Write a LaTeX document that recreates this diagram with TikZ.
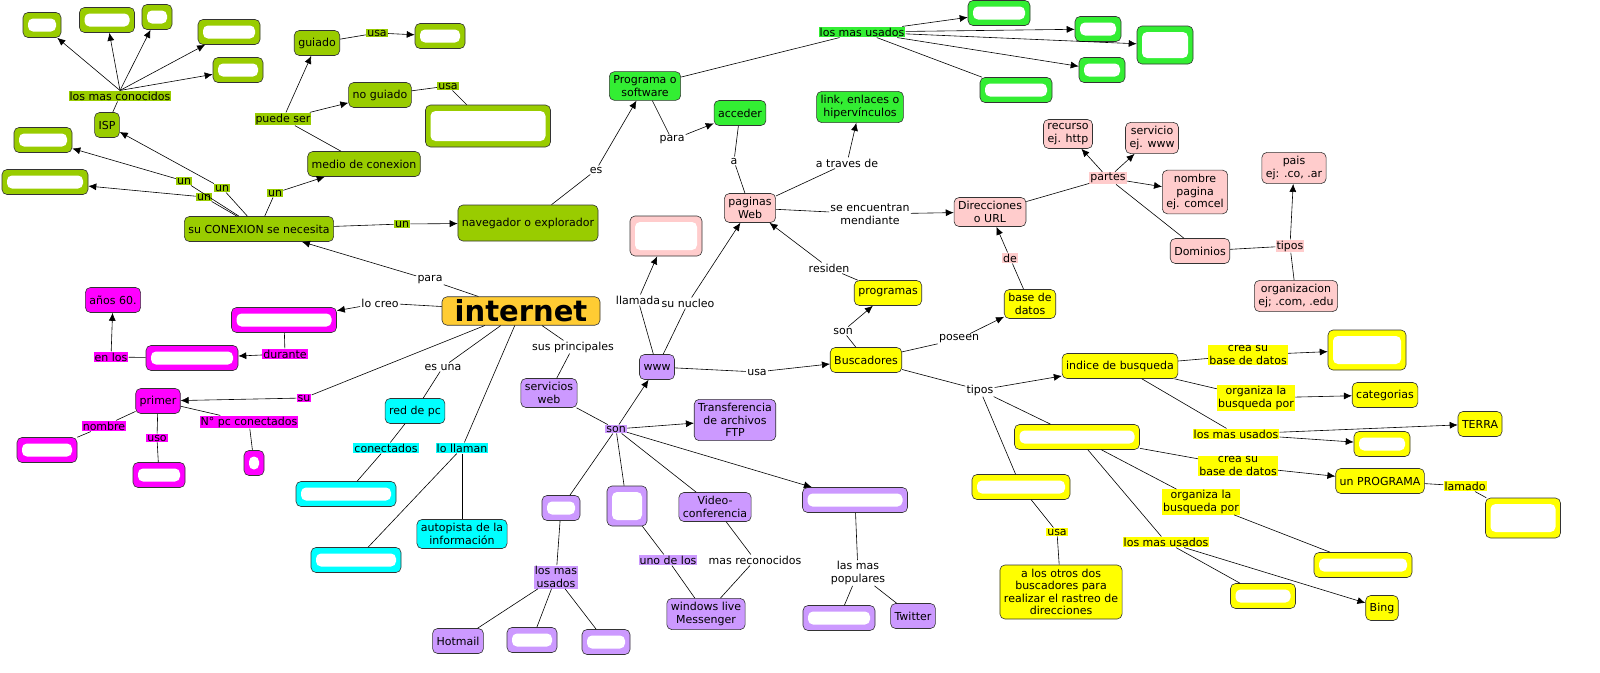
\documentclass[tikz,border=0pt]{standalone}
\usepackage{fontspec}
\setmainfont{DejaVu Sans}
\usetikzlibrary{positioning,arrows.meta}

\definecolor{olive}{HTML}{99CC00}
\definecolor{lime}{HTML}{33EE33}
\definecolor{rosa}{HTML}{FFCCCC}
\definecolor{mag}{HTML}{FF00FF}
\definecolor{cian}{HTML}{00FFFF}
\definecolor{lila}{HTML}{CC99FF}
\definecolor{amar}{HTML}{FFFF00}
\definecolor{naranja}{HTML}{FFCC33}

\tikzset{
  cn/.style={draw=black!80, rounded corners=5pt, align=center, inner sep=4pt, minimum height=25},
  hid/.style={path picture={\fill[white] ([shift={(5pt,-6pt)}]path picture bounding box.north west) rectangle ([shift={(-5pt,6pt)}]path picture bounding box.south east);}},
  lk/.style={fill=white, inner sep=1pt, align=center},
}

\begin{document}
\begin{tikzpicture}[x=1pt,y=-1pt,>={Latex[length=8pt,width=7pt]},font=\fontsize{11}{12.5}\selectfont,line width=0.6pt]
\useasboundingbox (0,0) rectangle (1600,672);

% verde olivo
\node[cn,fill=olive,hid,minimum width=38] (g1) at (42,25) {};
\node[cn,fill=olive,hid,minimum width=55] (g2) at (107,20) {};
\node[cn,fill=olive,hid,minimum width=30] (g3) at (157,17) {};
\node[cn,fill=olive,hid,minimum width=62] (g4) at (229,32) {};
\node[cn,fill=olive,hid,minimum width=50] (g5) at (238,70) {};
\node[cn,fill=olive] (guiado) at (317,43) {guiado};
\node[cn,fill=olive,hid,minimum width=50] (g6) at (440,36) {};
\node[cn,fill=olive] (noguiado) at (380,95) {no guiado};
\node[cn,fill=olive,hid,minimum width=125,minimum height=42] (g7) at (488,126) {};
\node[cn,fill=olive] (isp) at (107,125) {ISP};
\node[cn,fill=olive,hid,minimum width=58] (g8) at (43,140) {};
\node[cn,fill=olive,hid,minimum width=86] (g9) at (45,182) {};
\node[cn,fill=olive] (medio) at (364,164) {medio de conexion};
\node[cn,fill=olive] (conex) at (259,229) {su CONEXION se necesita};
\node[cn,fill=olive,minimum height=36] (nav) at (528,223) {navegador o explorador};

\node[lk,fill=olive] (lmc) at (120,96) {los mas conocidos};
\node[lk,fill=olive] (usa1) at (377,33) {usa};
\node[lk,fill=olive] (usa2) at (448,86) {usa};
\node[lk,fill=olive] (puede) at (283,119) {puede ser};
\node[lk,fill=olive] (un1) at (184,181) {un};
\node[lk,fill=olive] (un2) at (222,188) {un};
\node[lk,fill=olive] (un3) at (204,197) {un};
\node[lk,fill=olive] (un4) at (275,193) {un};
\node[lk,fill=olive] (un5) at (402,224) {un};
\node[lk] (es) at (596,170) {es};
\node[lk] (para1) at (430,280) {para};

% verde claro
\node[cn,fill=lime] (prog) at (645,86) {Programa o\\software};
\node[cn,fill=lime] (acceder) at (740,113) {acceder};
\node[cn,fill=lime] (link) at (860,107) {link, enlaces o\\hipervínculos};
\node[cn,fill=lime,hid,minimum width=62] (b1) at (999,13) {};
\node[cn,fill=lime,hid,minimum width=46] (b2) at (1098,29) {};
\node[cn,fill=lime,hid,minimum width=56,minimum height=38] (b3) at (1165,45) {};
\node[cn,fill=lime,hid,minimum width=46] (b4) at (1102,70) {};
\node[cn,fill=lime,hid,minimum width=72] (b5) at (1016,90) {};
\node[lk,fill=lime] (lmu1) at (862,32) {los mas usados};
\node[lk] (para2) at (672,140) {para};
\node[lk] (a) at (734,161) {a};
\node[lk] (atraves) at (847,163) {a traves de};

% rosa
\node[cn,fill=rosa] (pag) at (750,208) {paginas\\Web};
\node[cn,fill=rosa,hid,minimum width=72,minimum height=40] (p1) at (666,236) {};
\node[cn,fill=rosa] (dir) at (990,212) {Direcciones\\o URL};
\node[cn,fill=rosa] (recurso) at (1068,134) {recurso\\ej. http};
\node[cn,fill=rosa] (servicio) at (1152,138) {servicio\\ej. www};
\node[cn,fill=rosa] (nombre) at (1195,192) {nombre\\pagina\\ej. comcel};
\node[cn,fill=rosa] (pais) at (1294,168) {pais\\ej: .co, .ar};
\node[cn,fill=rosa] (dom) at (1200,251) {Dominios};
\node[cn,fill=rosa] (org) at (1296,296) {organizacion\\ej; .com, .edu};
\node[lk] (sem) at (870,214) {se encuentran\\mendiante};
\node[lk,fill=rosa] (partes) at (1108,178) {partes};
\node[lk,fill=rosa] (tipos1) at (1290,246) {tipos};
\node[lk,fill=rosa] (de) at (1010,258) {de};
\node[lk] (residen) at (829,268) {residen};

% internet
\node[cn,fill=naranja,font=\fontsize{29}{31}\bfseries,inner sep=3pt,minimum width=158] (internet) at (521,311) {internet};

% magenta
\node[cn,fill=mag] (anos) at (113,300) {años 60.};
\node[cn,fill=mag,hid,minimum width=105] (m1) at (284,320) {};
\node[cn,fill=mag,hid,minimum width=92] (m2) at (192,358) {};
\node[cn,fill=mag] (primer) at (158,401) {primer};
\node[cn,fill=mag,hid,minimum width=60] (m3) at (47,450) {};
\node[cn,fill=mag,hid,minimum width=52] (m4) at (159,475) {};
\node[cn,fill=mag,hid,minimum width=20] (m5) at (254,463) {};
\node[lk] (locreo) at (380,303) {lo creo};
\node[lk,fill=mag] (durante) at (285,354) {durante};
\node[lk,fill=mag] (enlos) at (111,357) {en los};
\node[lk,fill=mag] (su) at (304,398) {su};
\node[lk,fill=mag] (nom) at (104,426) {nombre};
\node[lk,fill=mag] (uso) at (157,438) {uso};
\node[lk,fill=mag] (npc) at (249,422) {N° pc conectados};

% cian
\node[cn,fill=cian] (red) at (415,411) {red de pc};
\node[cn,fill=cian,hid,minimum width=100] (c1) at (346,494) {};
\node[cn,fill=cian,hid,minimum width=90] (c2) at (356,560) {};
\node[cn,fill=cian] (auto) at (462,534) {autopista de la\\información};
\node[lk] (esuna) at (443,367) {es una};
\node[lk,fill=cian] (conect) at (386,448) {conectados};
\node[lk,fill=cian] (lollaman) at (462,448) {lo llaman};

% lila
\node[cn,fill=lila] (www) at (657,367) {www};
\node[cn,fill=lila] (serv) at (549,393) {servicios\\web};
\node[cn,fill=lila] (ftp) at (735,420) {Transferencia\\de archivos\\FTP};
\node[cn,fill=lila,hid,minimum width=38] (u1) at (561,508) {};
\node[cn,fill=lila,hid,minimum width=40,minimum height=40] (u2) at (627,506) {};
\node[cn,fill=lila] (video) at (715,507) {Video-\\conferencia};
\node[cn,fill=lila,hid,minimum width=105] (u3) at (855,500) {};
\node[cn,fill=lila] (hotmail) at (458,641) {Hotmail};
\node[cn,fill=lila,hid,minimum width=50] (u4) at (532,640) {};
\node[cn,fill=lila,hid,minimum width=48] (u5) at (606,642) {};
\node[cn,fill=lila] (wlm) at (706,614) {windows live\\Messenger};
\node[cn,fill=lila,hid,minimum width=72] (u6) at (839,618) {};
\node[cn,fill=lila] (twitter) at (913,616) {Twitter};
\node[lk] (llamada) at (638,300) {llamada};
\node[lk] (nucleo) at (688,303) {su nucleo};
\node[lk] (princ) at (573,347) {sus principales};
\node[lk] (usa3) at (757,372) {usa};
\node[lk,fill=lila] (son1) at (616,429) {son};
\node[lk,fill=lila] (lmu2) at (556,577) {los mas\\usados};
\node[lk,fill=lila] (unode) at (668,560) {uno de los};
\node[lk] (masrec) at (755,560) {mas reconocidos};
\node[lk] (populares) at (858,573) {las mas\\populares};

% amarillo
\node[cn,fill=amar] (prg) at (888,293) {programas};
\node[cn,fill=amar] (base) at (1030,304) {base de\\datos};
\node[cn,fill=amar] (busc) at (866,360) {Buscadores};
\node[cn,fill=amar] (indice) at (1120,366) {indice de busqueda};
\node[cn,fill=amar,hid,minimum width=78,minimum height=40] (y1) at (1367,350) {};
\node[cn,fill=amar] (cat) at (1385,395) {categorias};
\node[cn,fill=amar] (terra) at (1480,424) {TERRA};
\node[cn,fill=amar,hid,minimum width=56] (y2) at (1382,444) {};
\node[cn,fill=amar,hid,minimum width=125] (y3) at (1077,437) {};
\node[cn,fill=amar,hid,minimum width=98] (y4) at (1021,487) {};
\node[cn,fill=amar] (prgm) at (1380,481) {un PROGRAMA};
\node[cn,fill=amar,hid,minimum width=75,minimum height=40] (y5) at (1523,518) {};
\node[cn,fill=amar,hid,minimum width=98] (y6) at (1363,565) {};
\node[cn,fill=amar,hid,minimum width=65] (y7) at (1263,596) {};
\node[cn,fill=amar] (bing) at (1382,608) {Bing};
\node[cn,fill=amar] (otros) at (1061,592) {a los otros dos\\buscadores para\\realizar el rastreo de\\direcciones};
\node[lk] (son2) at (843,331) {son};
\node[lk] (poseen) at (959,339) {poseen};
\node[lk] (tipos2) at (980,390) {tipos};
\node[lk,fill=amar] (crea1) at (1248,355) {crea su\\base de datos};
\node[lk,fill=amar] (orga1) at (1256,398) {organiza la\\busqueda por};
\node[lk,fill=amar] (lmu3) at (1236,434) {los mas usados};
\node[lk,fill=amar] (crea2) at (1238,466) {crea su\\base de datos};
\node[lk,fill=amar] (lamado) at (1465,486) {lamado};
\node[lk,fill=amar] (orga2) at (1201,502) {organiza la\\busqueda por};
\node[lk,fill=amar] (lmu4) at (1166,542) {los mas usados};
\node[lk,fill=amar] (usa4) at (1057,532) {usa};

% conectores
\draw (isp) -- (lmc);
\foreach \t in {g1,g2,g3,g4,g5} \draw[->] (lmc.north) -- (\t);
\draw (guiado) -- (usa1); \draw[->] (usa1) -- (g6);
\draw (noguiado) -- (usa2) -- (g7);
\draw (medio) -- (puede); \draw[->] (puede) -- (guiado); \draw[->] (puede) -- (noguiado);
\draw (conex) -- (un4); \draw[->] (un4) -- (medio);
\draw (conex) -- (un2); \draw[->] (un2) -- (isp);
\draw (conex) -- (un1); \draw[->] (un1) -- (g8);
\draw (conex) -- (un3); \draw[->] (un3) -- (g9);
\draw (conex) -- (un5); \draw[->] (un5) -- (nav);
\draw (nav) -- (es); \draw[->] (es) -- (prog);
\draw (internet) -- (para1); \draw[->] (para1) -- (conex);

\draw (prog) -- (lmu1);
\foreach \t in {b1,b2,b3,b4} \draw[->] (lmu1) -- (\t);
\draw (lmu1) -- (b5);
\draw (prog) -- (para2); \draw[->] (para2) -- (acceder);
\draw (acceder) -- (a) -- (pag);
\draw (pag) -- (atraves); \draw[->] (atraves) -- (link);

\draw (pag) -- (sem); \draw[->] (sem) -- (dir);
\draw (dir) -- (partes);
\foreach \t in {recurso,servicio,nombre} \draw[->] (partes) -- (\t);
\draw (partes) -- (dom);
\draw (dom) -- (tipos1); \draw[->] (tipos1) -- (pais);
\draw (org) -- (tipos1);
\draw (base) -- (de); \draw[->] (de) -- (dir);
\draw (prg) -- (residen); \draw[->] (residen) -- (pag);

\draw (internet) -- (locreo); \draw[->] (locreo) -- (m1);
\draw (m1) -- (durante); \draw[->] (durante) -- (m2);
\draw (m2) -- (enlos); \draw[->] (enlos) -- (anos);
\draw (internet) -- (su); \draw[->] (su) -- (primer);
\draw (primer) -- (nom) -- (m3);
\draw (primer) -- (uso) -- (m4);
\draw (primer) -- (npc) -- (m5);

\draw (internet) -- (esuna) -- (red);
\draw (red) -- (conect) -- (c1);
\draw (internet) -- (lollaman);
\draw (lollaman) -- (c2); \draw (lollaman) -- (auto);

\draw (www) -- (llamada); \draw[->] (llamada) -- (p1);
\draw (www) -- (nucleo); \draw[->] (nucleo) -- (pag);
\draw (internet) -- (princ) -- (serv);
\draw (serv) -- (son1);
\draw[->] (son1) -- (www); \draw[->] (son1) -- (ftp); \draw[->] (son1) -- (u3);
\draw (son1) -- (u1); \draw (son1) -- (u2); \draw (son1) -- (video);
\draw (u1) -- (lmu2);
\foreach \t in {hotmail,u4,u5} \draw (lmu2) -- (\t);
\draw (u2) -- (unode) -- (wlm);
\draw (video) -- (masrec) -- (wlm);
\draw (u3) -- (populares);
\draw (populares) -- (u6); \draw (populares) -- (twitter);
\draw (www) -- (usa3); \draw[->] (usa3) -- (busc);

\draw (busc) -- (son2); \draw[->] (son2) -- (prg);
\draw (busc) -- (poseen); \draw[->] (poseen) -- (base);
\draw (busc) -- (tipos2); \draw[->] (tipos2) -- (indice);
\draw (tipos2) -- (y3); \draw (tipos2) -- (y4);
\draw (indice) -- (crea1); \draw[->] (crea1) -- (y1);
\draw (indice) -- (orga1); \draw[->] (orga1) -- (cat);
\draw (indice) -- (lmu3); \draw[->] (lmu3) -- (terra); \draw[->] (lmu3) -- (y2);
\draw (y3) -- (crea2); \draw[->] (crea2) -- (prgm);
\draw (prgm) -- (lamado) -- (y5);
\draw (y3) -- (orga2) -- (y6);
\draw (y3) -- (lmu4); \draw (lmu4) -- (y7); \draw[->] (lmu4) -- (bing);
\draw (y4) -- (usa4) -- (otros);
\end{tikzpicture}
\end{document}
